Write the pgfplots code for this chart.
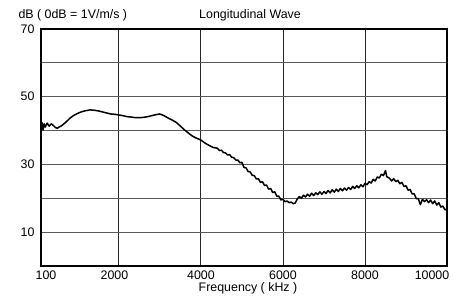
\documentclass[border=0pt]{standalone}
\usepackage{pgfplots}
\pgfplotsset{compat=1.18}
\usepackage{fontspec}
\setmainfont{Liberation Sans}
\pgfplotstableread{
x y
100 40.5
125 42.3
150 40.2
175 42.0
200 41.0
250 42.2
300 41.3
350 42.0
400 41.5
450 40.9
500 40.7
550 41.1
600 41.4
700 42.4
800 43.6
900 44.5
1000 45.1
1100 45.6
1200 45.9
1300 46.1
1400 46.0
1500 45.8
1600 45.5
1700 45.2
1800 44.9
1900 44.8
2000 44.6
2100 44.4
2200 44.1
2300 44.0
2400 43.8
2500 43.8
2600 43.9
2700 44.1
2800 44.4
2900 44.7
3000 44.9
3100 44.4
3200 43.7
3300 43.1
3400 42.4
3500 41.3
3600 40.2
3700 39.2
3800 38.3
3900 37.7
4000 37.2
4100 36.3
4200 35.6
4300 35.0
4400 34.8
4450 34.1
4500 34.2
4550 33.5
4600 33.4
4650 32.8
4700 32.9
4750 32.1
4800 32.0
4850 31.3
4900 31.3
4950 30.5
5000 30.6
5050 29.1
5100 29.0
5150 27.9
5200 27.8
5250 26.8
5300 26.7
5350 25.7
5400 25.8
5450 24.7
5500 24.9
5550 23.8
5600 23.9
5650 22.7
5700 22.9
5750 21.7
5800 21.9
5850 20.6
5900 20.6
5950 19.5
6000 19.7
6050 19.0
6100 19.2
6150 18.7
6200 18.9
6250 18.4
6300 18.6
6350 19.8
6400 20.5
6450 20.0
6500 20.9
6550 20.4
6600 21.2
6650 20.6
6700 21.5
6750 20.8
6800 21.6
6850 21.1
6900 21.9
6950 21.2
7000 22.0
7050 21.4
7100 22.3
7150 21.6
7200 22.5
7250 21.8
7300 22.7
7350 22.0
7400 22.9
7450 22.2
7500 23.0
7550 22.4
7600 23.2
7650 22.6
7700 23.5
7750 22.9
7800 23.7
7850 23.1
7900 24.0
7950 23.4
8000 24.4
8050 24.0
8100 24.9
8150 24.5
8200 25.6
8250 25.1
8300 26.3
8350 26.0
8400 27.1
8450 26.7
8500 28.2
8530 26.4
8600 25.9
8650 25.1
8700 25.8
8750 24.9
8800 25.3
8850 24.3
8900 24.7
8950 23.5
9000 23.7
9050 22.4
9100 22.6
9150 21.3
9200 21.3
9250 19.9
9300 19.9
9350 18.1
9400 19.7
9450 19.0
9500 19.6
9550 18.7
9600 19.5
9650 18.4
9700 19.2
9750 18.0
9800 18.7
9850 17.4
9900 17.7
9950 16.6
10000 16.8
}\datatable
\begin{document}
\begin{tikzpicture}
\begin{axis}[
  name=ax,
  scale only axis,
  width=406bp, height=237bp,
  xmin=100, xmax=10000,
  ymin=0, ymax=70,
  axis line style={black, line width=1.6bp},
  scaled x ticks=false,
  xtick={100,2000,4000,6000,8000,10000},
  xticklabels={\hspace*{10bp}100, 2000\hspace*{9bp}, 4000, 6000, 8000, 10000\hspace*{30bp}},
  ytick={0,10,20,30,40,50,60,70},
  yticklabels={,10,,30,,50,,70},
  major tick length=0pt,
  xmajorgrids, ymajorgrids,
  x grid style={black!85, line width=0.9bp},
  y grid style={black!65, line width=0.9bp},
  /pgf/number format/assume math mode=true,
  tick label style={font=\fontsize{12.4bp}{14bp}\selectfont},
  xticklabel style={yshift=-1bp},
  yticklabel style={xshift=-3bp},
]
\addplot[black, line width=1.5bp, line join=round] table[x=x,y=y] {\datatable};
\coordinate (ll) at (rel axis cs:0,0);
\coordinate (ur) at (rel axis cs:1,1);
\end{axis}
\pgfresetboundingbox
\path[use as bounding box] ([xshift=-41bp,yshift=-36bp]ll) rectangle ([xshift=7bp,yshift=29bp]ur);
\node[font=\fontsize{12.4bp}{14bp}\selectfont, anchor=base] at ([xshift=207bp,yshift=-26bp]ll |- ll) {Frequency ( kHz )};
\node[font=\fontsize{12.4bp}{14bp}\selectfont, anchor=base] at ([xshift=209bp,yshift=10bp]ll |- ur) {Longitudinal Wave};
\node[font=\fontsize{12.4bp}{14bp}\selectfont, anchor=base west] at ([xshift=-26bp,yshift=10bp]ll |- ur) {dB ( 0dB = 1V/m/s )};
\end{tikzpicture}
\end{document}
